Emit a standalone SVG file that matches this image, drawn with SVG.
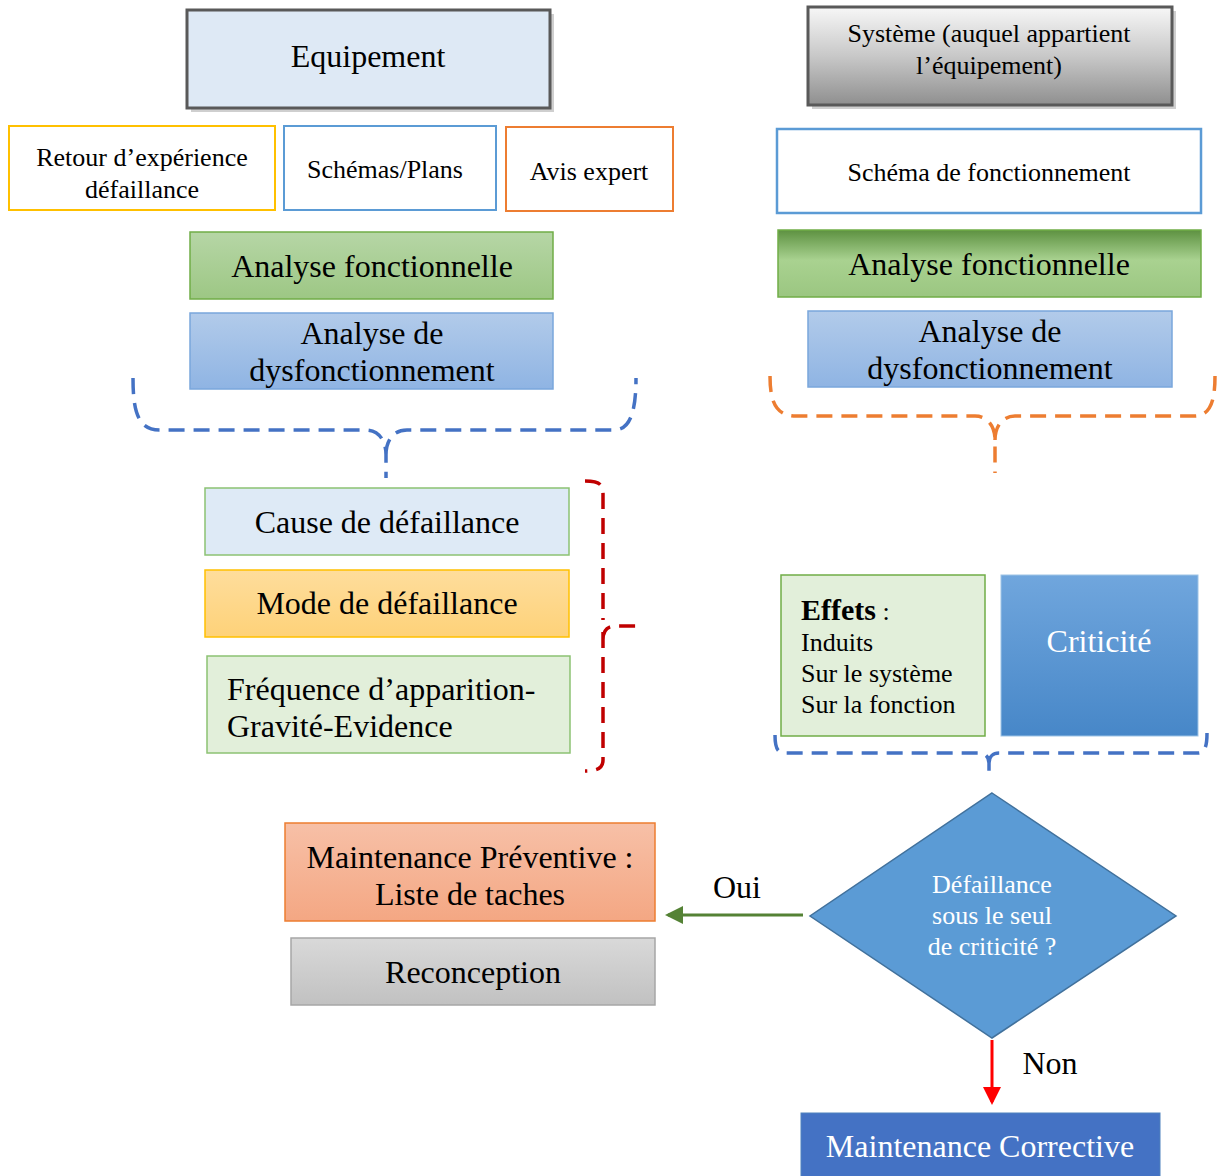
<svg xmlns="http://www.w3.org/2000/svg" width="1218" height="1176" viewBox="0 0 1218 1176">
  <defs>
    <linearGradient id="gSys" x1="0" y1="0" x2="0" y2="1">
      <stop offset="0" stop-color="#f7f7f7"/>
      <stop offset="0.5" stop-color="#c8c8c8"/>
      <stop offset="1" stop-color="#8f8f8f"/>
    </linearGradient>
    <linearGradient id="gGreen" x1="0" y1="0" x2="0" y2="1">
      <stop offset="0" stop-color="#b6d6a6"/>
      <stop offset="1" stop-color="#9dc784"/>
    </linearGradient>
    <linearGradient id="gGreenDark" x1="0" y1="0" x2="0" y2="1">
      <stop offset="0" stop-color="#5d9141"/>
      <stop offset="0.45" stop-color="#a9d290"/>
      <stop offset="1" stop-color="#9bc681"/>
    </linearGradient>
    <linearGradient id="gBlue" x1="0" y1="0" x2="0" y2="1">
      <stop offset="0" stop-color="#b2cbea"/>
      <stop offset="1" stop-color="#8fb4e3"/>
    </linearGradient>
    <linearGradient id="gOrange" x1="0" y1="0" x2="0" y2="1">
      <stop offset="0" stop-color="#fedd9c"/>
      <stop offset="1" stop-color="#fed279"/>
    </linearGradient>
    <linearGradient id="gSalmon" x1="0" y1="0" x2="0" y2="1">
      <stop offset="0" stop-color="#f7c0a7"/>
      <stop offset="1" stop-color="#f4a783"/>
    </linearGradient>
    <linearGradient id="gGrey" x1="0" y1="0" x2="0" y2="1">
      <stop offset="0" stop-color="#d9d9d9"/>
      <stop offset="1" stop-color="#c1c1c1"/>
    </linearGradient>
    <linearGradient id="gCrit" x1="0" y1="0" x2="0" y2="1">
      <stop offset="0" stop-color="#70a6dd"/>
      <stop offset="1" stop-color="#4787c8"/>
    </linearGradient>
    <marker id="arrGreen" markerWidth="6" markerHeight="6" refX="5" refY="3" orient="auto" markerUnits="strokeWidth">
      <path d="M0,0 L6,3 L0,6 Z" fill="#548235"/>
    </marker>
    <marker id="arrRed" markerWidth="6" markerHeight="6" refX="5" refY="3" orient="auto" markerUnits="strokeWidth">
      <path d="M0,0 L6,3 L0,6 Z" fill="#ff0000"/>
    </marker>
  </defs>
  <style>
    text { font-family: "Liberation Serif", "Times New Roman", serif; fill: #000; }
    .t32 { font-size: 32px; text-anchor: middle; }
    .t26 { font-size: 26px; text-anchor: middle; }
    .w { fill: #ffffff; }
    .shadow { fill: #cfcfcf; }
    .brace { fill: none; stroke-width: 3.5; stroke-dasharray: 16 9; }
  </style>

  <rect width="1218" height="1176" fill="#ffffff"/>

  <!-- left column: equipment and its inputs -->
  <g id="equipement">
    <rect class="shadow" x="191" y="14" width="363" height="98"/>
    <rect x="187" y="10" width="363" height="98" fill="#dee9f5" stroke="#595959" stroke-width="3"/>
    <text class="t32" x="368" y="67">Equipement</text>
  </g>
  <g id="retour-experience">
    <rect x="9" y="126" width="266" height="84" fill="#ffffff" stroke="#ffc000" stroke-width="2"/>
    <text class="t26" x="142" y="166">Retour d’expérience</text>
    <text class="t26" x="142" y="198">défaillance</text>
  </g>
  <g id="schemas-plans">
    <rect x="284" y="126" width="212" height="84" fill="#ffffff" stroke="#5b9bd5" stroke-width="2"/>
    <text class="t26" x="385" y="178">Schémas/Plans</text>
  </g>
  <g id="avis-expert">
    <rect x="506" y="127" width="167" height="84" fill="#ffffff" stroke="#ed7d31" stroke-width="2"/>
    <text class="t26" x="589" y="180">Avis expert</text>
  </g>
  <g id="analyse-fonctionnelle-eq">
    <rect x="190" y="232" width="363" height="67" fill="url(#gGreen)" stroke="#70ad47" stroke-width="1.5"/>
    <text class="t32" x="372" y="277">Analyse fonctionnelle</text>
  </g>
  <g id="analyse-dysfonctionnement-eq">
    <rect x="190" y="313" width="363" height="76" fill="url(#gBlue)" stroke="#7aa7dc" stroke-width="1.5"/>
    <text class="t32" x="372" y="344">Analyse de</text>
    <text class="t32" x="372" y="381">dysfonctionnement</text>
  </g>

  <!-- right column: system -->
  <g id="systeme">
    <rect class="shadow" x="812" y="11" width="364" height="98"/>
    <rect x="808" y="7" width="364" height="98" fill="url(#gSys)" stroke="#595959" stroke-width="3"/>
    <text class="t26" x="989" y="42">Système (auquel appartient</text>
    <text class="t26" x="989" y="74">l’équipement)</text>
  </g>
  <g id="schema-fonctionnement">
    <rect x="777" y="129" width="424" height="84" fill="#ffffff" stroke="#5b9bd5" stroke-width="2.5"/>
    <text class="t26" x="989" y="181">Schéma de fonctionnement</text>
  </g>
  <g id="analyse-fonctionnelle-sys">
    <rect x="778" y="230" width="423" height="67" fill="url(#gGreenDark)" stroke="#70ad47" stroke-width="1.5"/>
    <text class="t32" x="989" y="275">Analyse fonctionnelle</text>
  </g>
  <g id="analyse-dysfonctionnement-sys">
    <rect x="808" y="311" width="364" height="76" fill="url(#gBlue)" stroke="#7aa7dc" stroke-width="1.5"/>
    <text class="t32" x="990" y="342">Analyse de</text>
    <text class="t32" x="990" y="379">dysfonctionnement</text>
  </g>

  <!-- failure characterisation -->
  <g id="cause">
    <rect x="205" y="488" width="364" height="67" fill="#deeaf6" stroke="#8cc273" stroke-width="1.5"/>
    <text class="t32" x="387" y="533">Cause de défaillance</text>
  </g>
  <g id="mode">
    <rect x="205" y="570" width="364" height="67" fill="url(#gOrange)" stroke="#ffc000" stroke-width="1.5"/>
    <text class="t32" x="387" y="614">Mode de défaillance</text>
  </g>
  <g id="frequence">
    <rect x="207" y="656" width="363" height="97" fill="#e2efda" stroke="#8cc273" stroke-width="1.5"/>
    <text x="227" y="700" font-size="32">Fréquence d’apparition-</text>
    <text x="227" y="737" font-size="32">Gravité-Evidence</text>
  </g>

  <!-- effects and criticality -->
  <g id="effets">
    <rect x="781" y="575" width="204" height="161" fill="#e2efda" stroke="#70ad47" stroke-width="1.5"/>
    <text x="801" y="620" font-size="26"><tspan font-weight="bold" font-size="30">Effets</tspan> :</text>
    <text x="801" y="651" font-size="26">Induits</text>
    <text x="801" y="682" font-size="26">Sur le système</text>
    <text x="801" y="713" font-size="26">Sur la fonction</text>
  </g>
  <g id="criticite">
    <rect x="1001" y="575" width="197" height="161" fill="url(#gCrit)" stroke="#9dc3e6" stroke-width="1"/>
    <text class="t32 w" x="1099" y="652">Criticité</text>
  </g>

  <!-- decision -->
  <g id="decision">
    <polygon points="992,793 1176,916 992,1038 810,916" fill="#5b9bd5" stroke="#41719c" stroke-width="1.5"/>
    <text class="t26 w" x="992" y="893">Défaillance</text>
    <text class="t26 w" x="992" y="924">sous le seul</text>
    <text class="t26 w" x="992" y="955">de criticité ?</text>
  </g>

  <!-- outcomes -->
  <g id="maintenance-preventive">
    <rect x="285" y="823" width="370" height="98" fill="url(#gSalmon)" stroke="#ed7d31" stroke-width="1.5"/>
    <text class="t32" x="470" y="868">Maintenance Préventive :</text>
    <text class="t32" x="470" y="905">Liste de taches</text>
  </g>
  <g id="reconception">
    <rect x="291" y="938" width="364" height="67" fill="url(#gGrey)" stroke="#a6a6a6" stroke-width="1.5"/>
    <text class="t32" x="473" y="983">Reconception</text>
  </g>
  <g id="maintenance-corrective">
    <rect x="801" y="1113" width="359" height="70" fill="#4472c4" stroke="#4f81bd" stroke-width="1"/>
    <text class="t32 w" x="980" y="1157">Maintenance Corrective</text>
  </g>

  <!-- connectors: grouping braces and decision arrows -->
  <g id="connectors">
    <path class="brace" stroke="#4472c4" d="M133,378 C133,412 138,430 160,430 L366,430 C379,430 386,441 386,455 L386,478 M386,455 C386,441 393,430 407,430 L614,430 C630,430 636,412 636,378"/>
    <path class="brace" stroke="#ed7d31" d="M770,376 C770,402 776,416 796,416 L975,416 C988,416 995,427 995,440 L995,473 M995,440 C995,427 1002,416 1015,416 L1194,416 C1210,416 1215,402 1215,376"/>
    <path class="brace" stroke="#4472c4" stroke-dasharray="13 6" d="M775,735 C775,748 777,753 786,753 L979,753 C985,753 989,757 989,763 L989,776 M989,763 C989,757 993,753 999,753 L1198,753 C1205,753 1207,746 1207,733"/>
    <path class="brace" stroke="#c00000" stroke-dasharray="11 6" d="M585,481 C599,481 603,484 603,494 L603,620 M603,640 C603,630 607,626 617,626 L638,626 M603,632 L603,760 C603,768 598,771 585,771"/>
    <line x1="803" y1="915" x2="668" y2="915" stroke="#548235" stroke-width="3" marker-end="url(#arrGreen)"/>
    <text x="737" y="898" font-size="32" text-anchor="middle">Oui</text>
    <line x1="992" y1="1040" x2="992" y2="1102" stroke="#ff0000" stroke-width="3" marker-end="url(#arrRed)"/>
    <text x="1050" y="1074" font-size="32" text-anchor="middle">Non</text>
  </g>
</svg>
